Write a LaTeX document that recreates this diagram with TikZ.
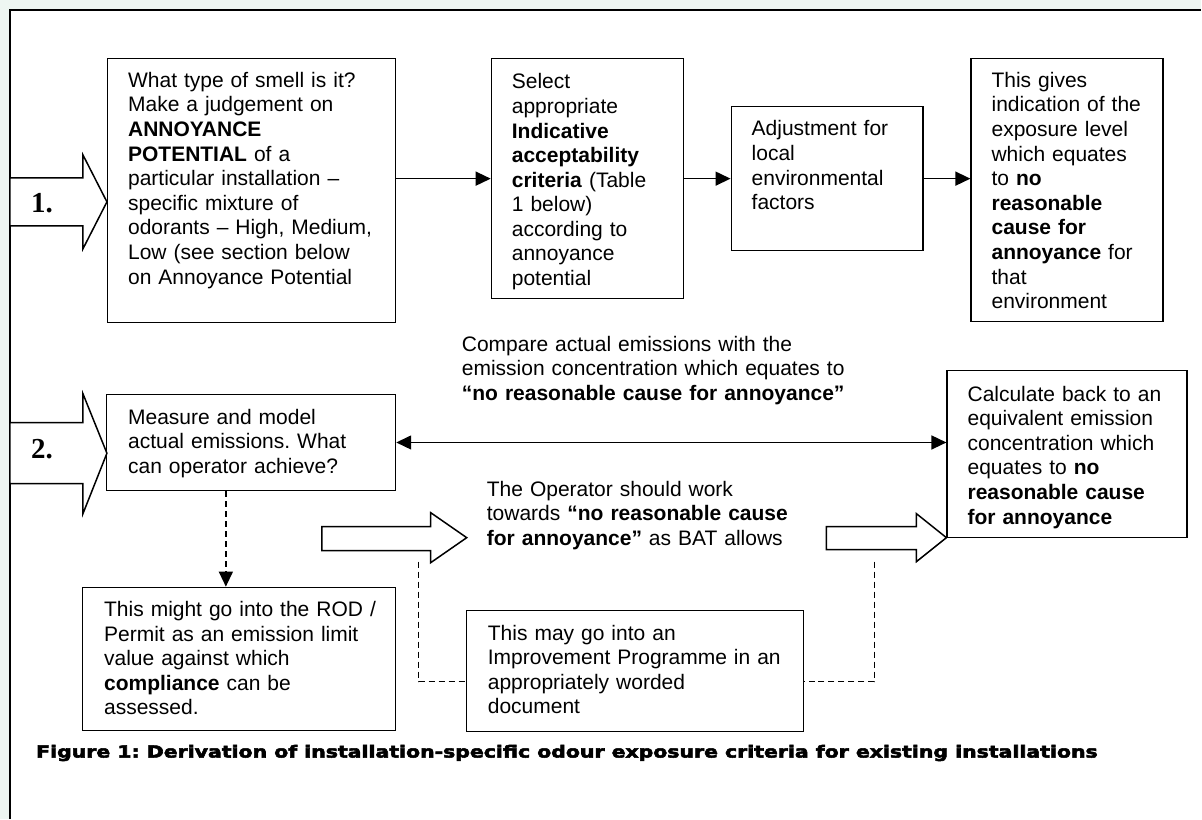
\documentclass[tikz,border=0pt]{standalone}
\usepackage{graphicx}
\usepackage{fontspec}
\setmainfont{Liberation Sans}
\newfontfamily\numfont{Liberation Serif}
\newfontfamily\capfont{DejaVu Sans}[BoldFeatures={FakeBold=3}]
\usetikzlibrary{arrows.meta}
\definecolor{pagebg}{RGB}{238,246,242}
\newcommand\bodysize{\fontsize{21}{24.6}\selectfont}
\frenchspacing

\begin{document}
\begin{tikzpicture}[x=1pt,y=-1pt,
  box/.style={draw, line width=1.5pt, fill=white, anchor=north west, inner sep=0pt},
  txt/.style={anchor=north west, inner sep=0pt, align=left, text width=#1, font=\bodysize},
  tip/.style={-{Triangle[length=15pt,width=14pt]}},
  arr/.style={line width=1.5pt, tip},
  darr/.style={line width=1.5pt, {Triangle[length=15pt,width=14pt]}-{Triangle[length=15pt,width=14pt]}},
  dashline/.style={line width=1.3pt, dash pattern=on 6pt off 4pt},
  block/.style={line width=1.5pt, draw, fill=white, line join=miter},
  numlabel/.style={inner sep=0pt, font=\numfont\bfseries\fontsize{29}{30}\selectfont}]

% page background and framed panel
\fill[pagebg] (0,0) rectangle (1202,819);
\fill[white] (10,10) rectangle (1202,819);
\draw[line width=1.5pt] (10,819) -- (10,10) -- (1202,10);
\useasboundingbox (0,0) rectangle (1202,819);

% step 1 row
\node[box, minimum width=288pt, minimum height=264pt] (b1) at (107,58) {};
\node[txt=260pt] (b1t) at ([shift={(21,12)}]b1.north west)
  {\strut What type of smell is it?\\ Make a judgement on\\ \textbf{ANNOYANCE}\\
   \textbf{POTENTIAL} of a\\ particular installation –\\ specific mixture of\\
   odorants – High, Medium,\\ Low (see section below\\ on Annoyance Potential};

\node[box, minimum width=192pt, minimum height=240pt] (b2) at (491,58) {};
\node[txt=170pt] (b2t) at ([shift={(21,13.5)}]b2.north west)
  {\strut Select\\ appropriate\\ \textbf{Indicative}\\ \textbf{acceptability}\\
   \textbf{criteria} (Table\\ 1 below)\\ according to\\ annoyance\\ potential};

\node[box, minimum width=192pt, minimum height=144pt] (b3) at (731,106) {};
\node[txt=170pt] (b3t) at ([shift={(21,12.5)}]b3.north west)
  {\strut Adjustment for\\ local\\ environmental\\ factors};

\node[box, minimum width=192pt, minimum height=263pt] (b4) at (971,58) {};
\node[txt=172pt] (b4t) at ([shift={(21,12)}]b4.north west)
  {\strut This gives\\ indication of the\\ exposure level\\ which equates\\
   to \textbf{no}\\ \textbf{reasonable}\\ \textbf{cause for}\\ \textbf{annoyance} for\\
   that\\ environment};

\draw[arr] (b1.east |- b2.west) -- (b2.west);
\draw[arr] (b2.east) -- (b3.west);
\draw[arr] (b3.east) -- (b3.east -| b4.west);

% step 2 row
\node[box, minimum width=289pt, minimum height=96pt] (m) at (106,394) {};
\node[txt=260pt] (mt) at ([shift={(22,13)}]m.north west)
  {\strut Measure and model\\ actual emissions. What\\ can operator achieve?};

\node[box, minimum width=240pt, minimum height=167pt] (c) at (947,370) {};
\node[txt=215pt] (ct) at ([shift={(21,14)}]c.north west)
  {\strut Calculate back to an\\ equivalent emission\\ concentration which\\
   equates to \textbf{no}\\ \textbf{reasonable cause}\\ \textbf{for annoyance}};

\node[txt=420pt] (cmp) at (462,334)
  {\strut Compare actual emissions with the\\ emission concentration which equates to\\
   \textbf{“no reasonable cause for annoyance”}};

\draw[darr] (m.east) -- (m.east -| c.west);

\node[txt=330pt] (op) at (487,479)
  {\strut The Operator should work\\ towards \textbf{“no reasonable cause}\\
   \textbf{for annoyance”} as BAT allows};

\node[box, minimum width=313pt, minimum height=143pt] (r) at (82,587) {};
\node[txt=290pt] (rt) at ([shift={(22,12.5)}]r.north west)
  {\strut This might go into the ROD /\\ Permit as an emission limit\\
   value against which\\ \textbf{compliance} can be\\ assessed.};

\node[box, minimum width=337pt, minimum height=121pt] (pm) at (466,610) {};
\node[txt=310pt] (pmt) at ([shift={(22,13)}]pm.north west)
  {\strut This may go into an\\ Improvement Programme in an\\ appropriately worded\\ document};

% dashed links
\coordinate (dx) at (226,0);
\draw[dashline, tip] (m.south -| dx) -- (r.north -| dx);
\coordinate (dA) at (419,562);
\coordinate (dB) at (875,562);
\draw[dashline] (dA) |- (pm.west |- 0,682);
\draw[dashline] (dB) |- (pm.east |- 0,682);

% hollow block arrows
\draw[block] (10,178) -- (83,178) -- (83,155) -- (107,202) -- (83,249) -- (83,226) -- (10,226) -- cycle;
\draw[block] (10,423) -- (83,423) -- (83,394) -- (107,453.5) -- (83,514) -- (83,484) -- (10,484) -- cycle;
\draw[block] (322,527) -- (431,527) -- (431,513) -- (467,538) -- (431,563) -- (431,551) -- (322,551) -- cycle;
\draw[block] (827,527) -- (917,527) -- (917,514) -- (947,538) -- (917,562) -- (917,550) -- (827,550) -- cycle;

\node[numlabel] (n1) at (42,203) {1.};
\node[numlabel] (n2) at (42,449) {2.};

% caption
\node[anchor=base west, inner sep=0pt] (cap) at (36,758)
  {\resizebox{1062pt}{12.6pt}{\capfont\bfseries Figure 1: Derivation of installation-specific odour exposure criteria for existing installations}};
\end{tikzpicture}
\end{document}
